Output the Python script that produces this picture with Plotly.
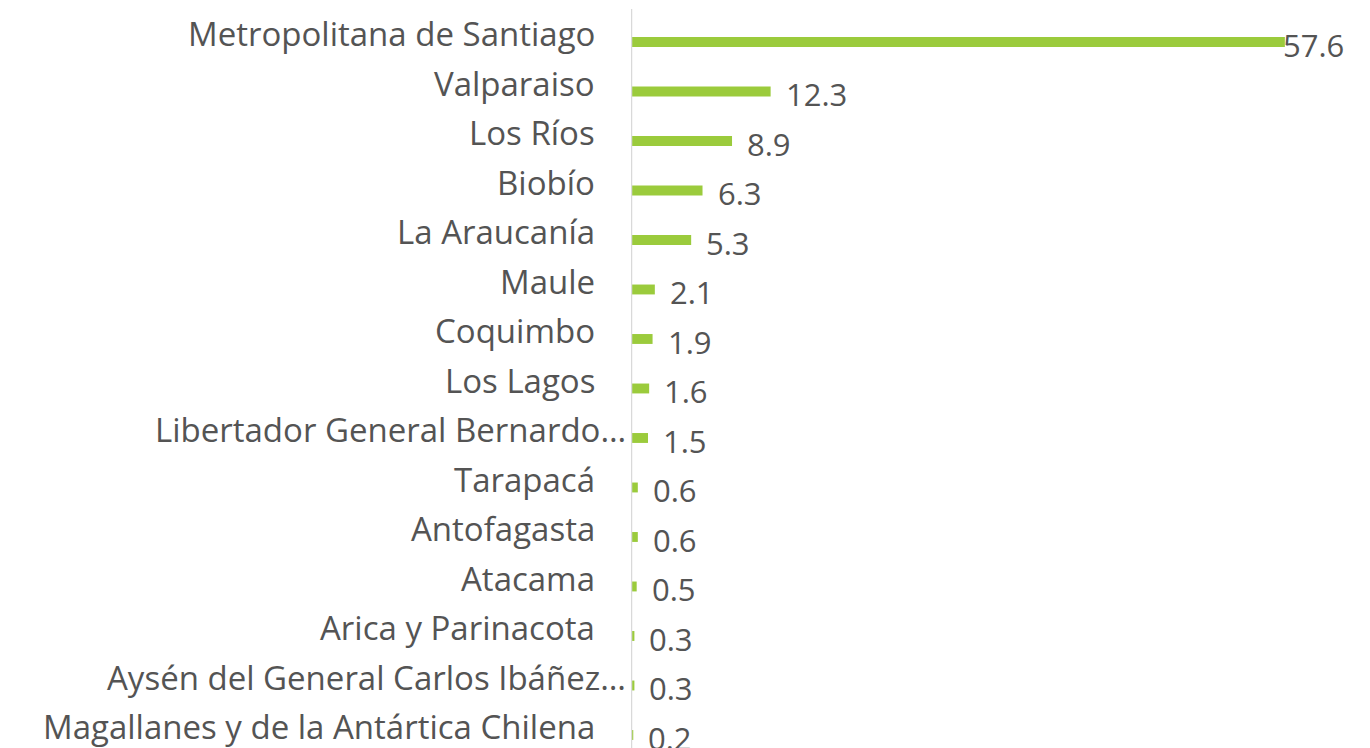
import plotly.graph_objects as go

regions = [
    "Metropolitana de Santiago", "Valparaiso", "Los Ríos", "Biobío", "La Araucanía",
    "Maule", "Coquimbo", "Los Lagos", "Libertador General Bernardo…", "Tarapacá",
    "Antofagasta", "Atacama", "Arica y Parinacota", "Aysén del General Carlos Ibáñez…",
    "Magallanes y de la Antártica Chilena",
]
values = [57.6, 12.3, 8.9, 6.3, 5.3, 2.1, 1.9, 1.6, 1.5, 0.6, 0.6, 0.5, 0.3, 0.3, 0.2]

BAR = "#9BCB3C"
TXT = "#545454"
FONT = "'Open Sans', sans-serif"

fig = go.Figure(go.Bar(
    x=values, y=regions, orientation="h",
    marker=dict(color=BAR, line=dict(width=0)),
    width=0.2,
    hoverinfo="skip",
))

vmax = max(values)
annotations = []
for r, v in zip(regions, values):
    annotations.append(dict(
        x=0, y=r, xref="x", yref="y", text=r, showarrow=False,
        xanchor="right", yanchor="middle",
        xshift=-3 if r.endswith("…") else -34, yshift=8,
        font=dict(family=FONT, size=33, color=TXT),
    ))
    annotations.append(dict(
        x=v, y=r, xref="x", yref="y", text=f"{v:.1f}", showarrow=False,
        xanchor="left", yanchor="middle", xshift=-4 if v == vmax else 13, yshift=-3,
        font=dict(family=FONT, size=31, color=TXT),
    ))

fig.add_shape(type="line", xref="x", yref="paper", x0=0, x1=0, y0=0, y1=(748 - 9) / 748,
              line=dict(color="#D9D9D9", width=2.5))

fig.update_layout(
    width=1370, height=748,
    margin=dict(l=631, r=0, t=0, b=0),
    paper_bgcolor="white", plot_bgcolor="white",
    showlegend=False,
    annotations=annotations,
    xaxis=dict(range=[0, 65.1], visible=False, fixedrange=True),
    yaxis=dict(type="category", range=[14.263, -0.848], visible=False,
               categoryorder="array", categoryarray=regions),
)

fig.write_html("out.html", config={"displayModeBar": False},
               post_script="document.body.style.margin='0px';")
